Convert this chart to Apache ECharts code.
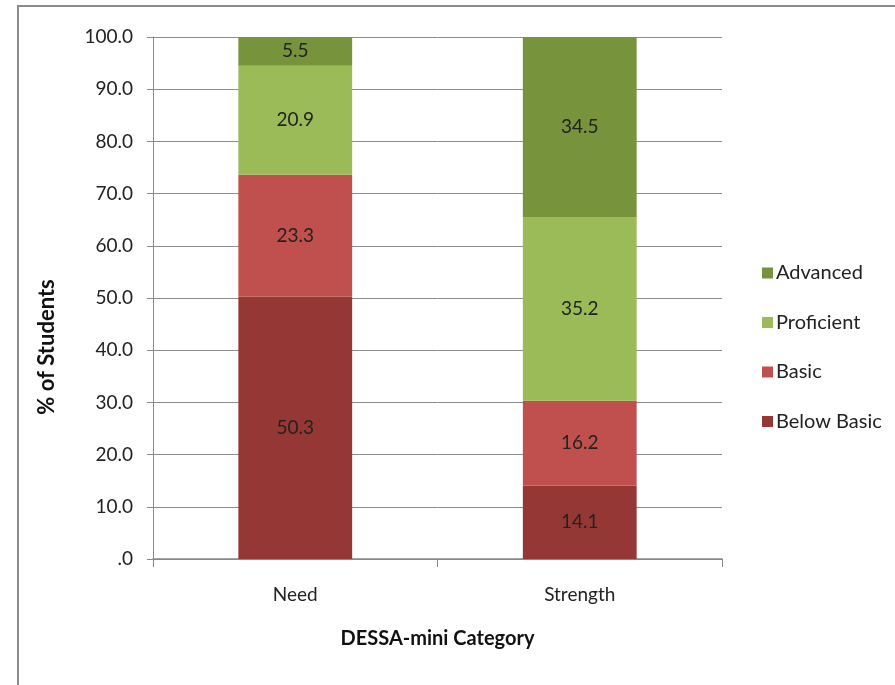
<!DOCTYPE html>
<html><head><meta charset="utf-8">
<script src="https://cdn.jsdelivr.net/npm/echarts@6/dist/echarts.min.js"></script>
<style>html,body{margin:0;padding:0;background:#fff}#c{width:895px;height:685px}</style>
</head><body><div id="c"></div>
<script>
const categories = ["Need", "Strength"];
const belowBasic = [50.3, 14.1];
const basic = [23.3, 16.2];
const proficient = [20.9, 35.2];
const advanced = [5.5, 34.5];
const seriesNames = ["Below Basic", "Basic", "Proficient", "Advanced"];
const legendOrder = ["Advanced", "Proficient", "Basic", "Below Basic"];
const colors = ["#953735", "#C0504D", "#9BBB59", "#77933C"];
const FONT = "Lato";

const chart = echarts.init(document.getElementById('c'), null, {renderer: 'canvas'});
const mk = (name, data, color) => ({
  name, type: 'bar', stack: 't', data, barWidth: '40%',
  itemStyle: {color},
  label: {show: true, position: 'inside', color: '#222', fontFamily: FONT, fontSize: 19,
    formatter: p => p.value.toFixed(1)}
});
chart.setOption({
  animation: false,
  textStyle: {fontFamily: FONT},
  graphic: [{type: 'rect', shape: {x: 18, y: 6, width: 900, height: 700},
    style: {fill: 'none', stroke: '#8c8c8c', lineWidth: 2}, silent: true}],
  grid: {left: 153, right: 173, top: 37, bottom: 126, containLabel: false},
  legend: {
    orient: 'vertical', left: 757, top: 258, itemGap: 29.5, itemWidth: 11, itemHeight: 11,
    data: legendOrder.map(n => ({name: n, icon: 'rect'})),
    textStyle: {fontFamily: FONT, fontSize: 20, color: '#222', padding: [0, 0, 0, -2]}
  },
  xAxis: {
    type: 'category', data: categories,
    name: 'DESSA-mini Category', nameLocation: 'middle', nameGap: 70,
    nameTextStyle: {fontFamily: FONT, fontWeight: 'bold', fontSize: 20, color: '#111'},
    axisLine: {lineStyle: {color: '#888', width: 1.5}},
    axisTick: {show: true, length: 8, lineStyle: {color: '#888'}},
    axisLabel: {fontFamily: FONT, fontSize: 19, color: '#222', margin: 26}
  },
  yAxis: {
    type: 'value', min: 0, max: 100, interval: 10,
    name: '% of Students', nameLocation: 'middle', nameGap: 95, nameRotate: 90,
    nameTextStyle: {fontFamily: FONT, fontWeight: 'bold', fontSize: 22, color: '#111',
      padding: [0, 98, 0, 0]},
    axisLine: {show: true, lineStyle: {color: '#888'}},
    axisTick: {show: true, inside: false, length: 6, lineStyle: {color: '#888'}},
    splitLine: {show: true, lineStyle: {color: '#8c8c8c'}},
    axisLabel: {fontFamily: FONT, fontSize: 19, color: '#222', margin: 20,
      formatter: v => v === 0 ? '.0' : v.toFixed(1)}
  },
  series: [
    mk(seriesNames[0], belowBasic, colors[0]),
    mk(seriesNames[1], basic, colors[1]),
    mk(seriesNames[2], proficient, colors[2]),
    mk(seriesNames[3], advanced, colors[3])
  ]
});
</script></body></html>
